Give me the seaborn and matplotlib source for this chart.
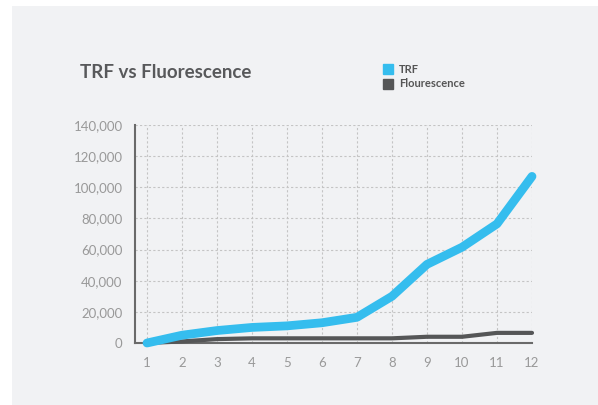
import pandas as pd
import numpy as np
import matplotlib.pyplot as plt
import seaborn as sns
from matplotlib.patches import Rectangle
from matplotlib.lines import Line2D

# Datos
muestras = [1, 2, 3, 4, 5, 6, 7, 8, 9, 10, 11, 12]
trf = [0, 5000, 8000, 10000, 11000, 13000, 16500, 30000, 50500, 61500, 76500, 107000]
fluor = [0, 1000, 2500, 3000, 3000, 3000, 3000, 3000, 4000, 4000, 6500, 6500]
series = ["TRF", "Flourescence"]
colores = ["#35bdee", "#555657"]
y_ticks = [0, 20000, 40000, 60000, 80000, 100000, 120000, 140000]

df = pd.DataFrame({
    "x": muestras * 2,
    "valor": trf + fluor,
    "serie": [series[0]] * len(trf) + [series[1]] * len(fluor),
})

sns.set_style("white")
plt.rcParams['font.family'] = ['Lato', 'DejaVu Sans']

fondo = "#f1f2f4"
fig = plt.figure(figsize=(5.98, 4.05), dpi=100, facecolor="white")
fig.patches.append(Rectangle((12 / 598, 0), 1, 1 - 6 / 405, transform=fig.transFigure,
                             facecolor=fondo, edgecolor="none", zorder=-10))

ax = fig.add_axes([135 / 598, (405 - 343) / 405, (532 - 135) / 598, (343 - 125) / 405])
ax.set_facecolor(fondo)
ax.set_zorder(1)

sns.lineplot(data=df, x="x", y="valor", hue="serie", palette=dict(zip(series, colores)),
             ax=ax, legend=False, estimator=None, sort=False)
for linea, ancho, z in zip(ax.lines, [6.3, 3], [4, 3]):
    linea.set_linewidth(ancho)
    linea.set_solid_capstyle("round")
    linea.set_solid_joinstyle("round")
    linea.set_clip_on(False)
    linea.set_zorder(z)

ax.set_xlim(1 - 12 / 35, 12)
ax.set_ylim(0, 140000)
ax.set_xticks(muestras)
ax.set_yticks(y_ticks)
ax.set_yticklabels([f"{v:,}" for v in y_ticks])
ax.grid(True, color="#c4c4c4", linestyle=(0, (2, 2)), linewidth=0.8)
ax.set_axisbelow(True)
ax.set_xlabel("")
ax.set_ylabel("")

for lado in ["top", "right"]:
    ax.spines[lado].set_visible(False)
for lado in ["left", "bottom"]:
    ax.spines[lado].set_color("#6a6a6a")
    ax.spines[lado].set_linewidth(1.5)

ax.tick_params(axis="both", length=0, labelsize=9.5, labelcolor="#999999")
ax.tick_params(axis="x", pad=10)
ax.tick_params(axis="y", pad=9)

fig.text(80 / 598, 1 - 72 / 405, "TRF vs Fluorescence", fontsize=13.5, fontweight="bold",
         color="#58595b", va="center", ha="left")

manejadores = [Line2D([], [], marker="s", linestyle="none", markersize=7,
                      markerfacecolor=c, markeredgecolor=c) for c in colores]
fig.legend(manejadores, series, loc="upper left", bbox_to_anchor=(378 / 598, 1 - 58 / 405),
           frameon=False, handlelength=0.8, handletextpad=0.6,
           labelspacing=0.35, borderpad=0, labelcolor="#555555",
           prop={"weight": "bold", "size": 8})

fig.savefig("out.png", dpi=100, facecolor="white")
